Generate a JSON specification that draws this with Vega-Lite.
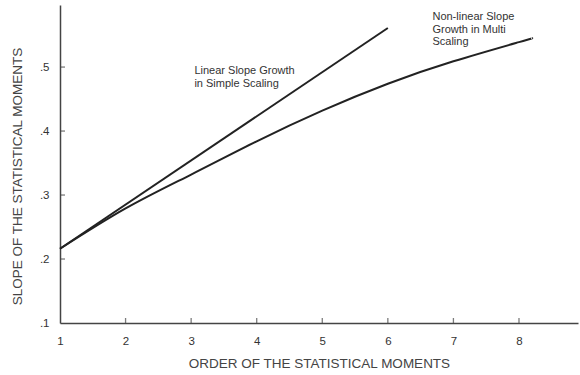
{
  "$schema": "https://vega.github.io/schema/vega-lite/v6.json",
  "width": 518,
  "height": 318,
  "autosize": {"type": "none"},
  "padding": {"left": 60, "top": 5, "right": 2, "bottom": 52},
  "background": "white",
  "config": {
    "view": {"stroke": null},
    "font": "Liberation Sans"
  },
  "layer": [
    {
      "data": {
        "values": [
          {"series": "linear", "order": 1, "x": 1, "y": 0.216},
          {"series": "linear", "order": 2, "x": 6, "y": 0.561},
          {"series": "multi", "order": 1, "x": 1, "y": 0.216},
          {"series": "multi", "order": 2, "x": 2, "y": 0.279},
          {"series": "multi", "order": 3, "x": 3, "y": 0.332},
          {"series": "multi", "order": 4, "x": 4, "y": 0.384},
          {"series": "multi", "order": 5, "x": 5, "y": 0.432},
          {"series": "multi", "order": 6, "x": 6, "y": 0.474},
          {"series": "multi", "order": 7, "x": 7, "y": 0.509},
          {"series": "multi", "order": 8, "x": 8, "y": 0.539},
          {"series": "multi", "order": 9, "x": 8.2, "y": 0.545}
        ]
      },
      "mark": {"type": "line", "interpolate": "natural", "color": "#222222", "strokeWidth": 2},
      "encoding": {
        "x": {
          "field": "x", "type": "quantitative",
          "scale": {"domain": [1, 8.9], "nice": false, "zero": false},
          "axis": {
            "values": [1, 2, 3, 4, 5, 6, 7, 8],
            "format": "d",
            "title": "ORDER OF THE STATISTICAL MOMENTS",
            "titleFont": "Liberation Sans", "titleFontSize": 13.5, "titleFontWeight": "normal",
            "titleColor": "#444444", "titlePadding": 10,
            "labelFont": "Liberation Sans", "labelFontSize": 11.5, "labelColor": "#333333",
            "labelPadding": 12,
            "ticks": false,
            "domainColor": "#444444", "domainWidth": 1.5,
            "grid": false, "labelFlush": false
          }
        },
        "y": {
          "field": "y", "type": "quantitative",
          "scale": {"domain": [0.1, 0.597], "nice": false, "zero": false},
          "axis": {
            "values": [0.1, 0.2, 0.3, 0.4, 0.5],
            "labelExpr": "substring(format(datum.value, '.1f'), 1)",
            "title": "SLOPE OF THE STATISTICAL MOMENTS",
            "titleFont": "Liberation Sans", "titleFontSize": 13.5, "titleFontWeight": "normal",
            "titleColor": "#444444", "titleX": -39, "titleY": 171, "titleAnchor": "middle",
            "titleBaseline": "alphabetic",
            "labelFont": "Liberation Sans", "labelFontSize": 11.5, "labelColor": "#333333",
            "labelPadding": 11,
            "ticks": false,
            "domainColor": "#444444", "domainWidth": 1.5,
            "grid": false, "labelFlush": false
          }
        },
        "detail": {"field": "series"},
        "order": {"field": "order"}
      }
    },
    {
      "data": {"values": [{"t": 2}, {"t": 3}, {"t": 4}, {"t": 5}, {"t": 6}, {"t": 7}, {"t": 8}]},
      "mark": {"type": "tick", "orient": "vertical", "size": 5, "thickness": 1.3, "yOffset": -2.5, "color": "#444444"},
      "encoding": {
        "x": {"field": "t", "type": "quantitative"},
        "y": {"datum": 0.1, "type": "quantitative"}
      }
    },
    {
      "data": {"values": [{"t": 0.2}, {"t": 0.3}, {"t": 0.4}, {"t": 0.5}]},
      "mark": {"type": "tick", "orient": "horizontal", "size": 5, "thickness": 1.3, "xOffset": 2.5, "color": "#444444"},
      "encoding": {
        "y": {"field": "t", "type": "quantitative"},
        "x": {"datum": 1, "type": "quantitative"}
      }
    },
    {
      "data": {
        "values": [
          {"x": 3.05, "y": 0.489, "label": ["Linear Slope Growth", "in Simple Scaling"]},
          {"x": 6.68, "y": 0.573, "label": ["Non-linear Slope", "Growth in Multi", "Scaling"]}
        ]
      },
      "mark": {"type": "text", "align": "left", "baseline": "alphabetic", "fontSize": 11, "lineHeight": 12.5, "color": "#333333", "font": "Liberation Sans"},
      "encoding": {
        "x": {"field": "x", "type": "quantitative"},
        "y": {"field": "y", "type": "quantitative"},
        "text": {"field": "label"}
      }
    }
  ]
}
